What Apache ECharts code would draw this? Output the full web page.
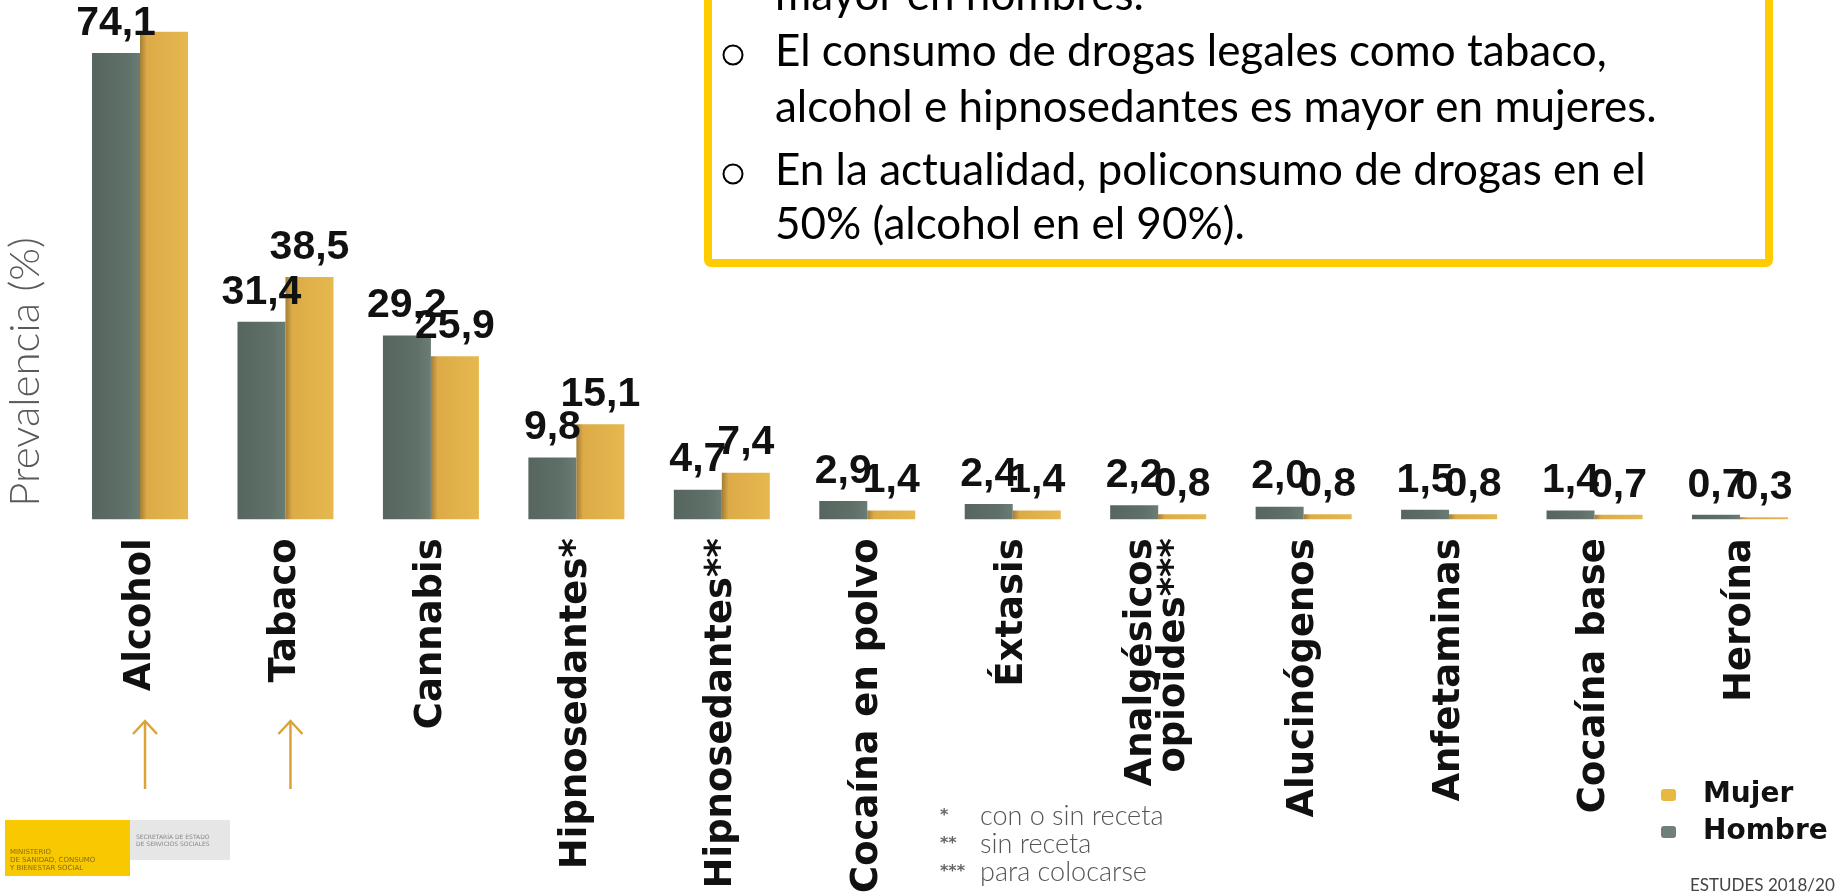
<!DOCTYPE html>
<html>
<head>
<meta charset="utf-8">
<script src="https://cdn.jsdelivr.net/npm/echarts@6/dist/echarts.min.js"></script>
<style>
html,body{margin:0;padding:0;background:#ffffff;}
#chart{width:1835px;height:896px;}
</style>
</head>
<body>
<div id="chart"></div>
<script>
// ---- data ----
const categories = ['Alcohol', 'Tabaco', 'Cannabis', 'Hipnosedantes*', 'Hipnosedantes**',
  'Cocaína en polvo', 'Éxtasis', 'Analgésicos\nopioides***', 'Alucinógenos', 'Anfetaminas',
  'Cocaína base', 'Heroína'];
const hombre = [74.1, 31.4, 29.2, 9.8, 4.7, 2.9, 2.4, 2.2, 2.0, 1.5, 1.4, 0.7];
const mujer  = [77.5, 38.5, 25.9, 15.1, 7.4, 1.4, 1.4, 0.8, 0.8, 0.8, 0.7, 0.3];
const hiddenMujerLabels = ['Alcohol'];
const arrowCategories = ['Alcohol', 'Tabaco'];
const legendOrder = ['Mujer', 'Hombre'];
const yAxisTitle = 'Prevalencia (%)';
const boxLines = ['mayor en hombres.', 'El consumo de drogas legales como tabaco,',
  'alcohol e hipnosedantes es mayor en mujeres.', 'En la actualidad, policonsumo de drogas en el',
  '50% (alcohol en el 90%).'];
const boxBulletLines = [1, 3];
const footMarks = ['*', '**', '***'];
const footTexts = ['con o sin receta', 'sin receta', 'para colocarse'];
const sourceText = 'ESTUDES 2018/2019';

// ---- chart ----
const chart = echarts.init(document.getElementById('chart'), null, {renderer: 'canvas'});
const fmt = p => p.value.toFixed(1).replace('.', ',');
const labelStyle = {
  show: true, position: 'top', distance: 9, formatter: fmt,
  fontFamily: "'Liberation Sans', 'Arial', sans-serif", fontWeight: 'bold', fontSize: 41, color: '#111'
};
const hombreColor = new echarts.graphic.LinearGradient(0, 0, 1, 0, [
  {offset: 0, color: '#56665f'}, {offset: 0.7, color: '#5f7068'}, {offset: 1, color: '#6a7c74'}]);
const mujerColor = new echarts.graphic.LinearGradient(0, 0, 1, 0, [
  {offset: 0, color: '#a27d36'}, {offset: 0.14, color: '#dcab47'}, {offset: 1, color: '#e6b84f'}]);

const mujerData = mujer.map((v, i) => hiddenMujerLabels.indexOf(categories[i]) >= 0
  ? {value: v, label: {show: false}} : v);

const boxFont = "'Lato', 'Open Sans', sans-serif";
const boxLineY = [-4, 52, 108, 171, 225];
const graphics = [];
// text box
graphics.push({type: 'rect', z: 10, shape: {x: 708, y: -40, width: 1061, height: 303, r: 3},
  style: {fill: '#ffffff', stroke: '#ffcc00', lineWidth: 8}});
boxLines.forEach((t, i) => {
  graphics.push({type: 'text', z: 11, x: 775, y: boxLineY[i],
    style: {text: t, font: "44px " + boxFont, fill: '#000', verticalAlign: 'middle', align: 'left'}});
});
boxBulletLines.forEach(i => {
  graphics.push({type: 'circle', z: 11, shape: {cx: 733, cy: boxLineY[i] + 3, r: 9.5},
    style: {fill: 'none', stroke: '#000', lineWidth: 2}});
});
// y axis title
graphics.push({type: 'text', x: 25, y: 372, rotation: Math.PI / 2,
  style: {text: yAxisTitle, font: "300 42px 'Lato', 'Open Sans', sans-serif", fill: '#5a5a5a',
    align: 'center', verticalAlign: 'middle'}});
// footnotes
footMarks.forEach((m, i) => {
  graphics.push({type: 'text', x: 940, y: 816 + i * 28,
    style: {text: m, font: "bold 16px 'DejaVu Sans', sans-serif", fill: '#666', verticalAlign: 'middle'}});
  graphics.push({type: 'text', x: 980, y: 816 + i * 28,
    style: {text: footTexts[i], font: "300 27px 'Lato', sans-serif", fill: '#555', verticalAlign: 'middle'}});
});
// source
graphics.push({type: 'text', x: 1690, y: 886,
  style: {text: sourceText, font: "17px 'Lato', sans-serif", fill: '#444', verticalAlign: 'middle'}});
// logo
graphics.push({type: 'rect', shape: {x: 5, y: 820, width: 125, height: 56}, style: {fill: '#f8c800'}});
graphics.push({type: 'rect', shape: {x: 130, y: 820, width: 100, height: 40}, style: {fill: '#e6e6e6'}});
graphics.push({type: 'text', x: 10, y: 848, style: {text: 'MINISTERIO\nDE SANIDAD, CONSUMO\nY BIENESTAR SOCIAL',
  font: "7px 'DejaVu Sans', sans-serif", fill: '#8a6d10', lineHeight: 8}});
graphics.push({type: 'text', x: 136, y: 834, style: {text: 'SECRETARÍA DE ESTADO\nDE SERVICIOS SOCIALES',
  font: "6px 'DejaVu Sans', sans-serif", fill: '#888', lineHeight: 7}});

const option = {
  backgroundColor: '#ffffff',
  animation: false,
  grid: {left: 67.3, right: 22.3, top: 16, bottom: 374, containLabel: false},
  legend: {
    orient: 'vertical', left: 1656, top: 776, itemWidth: 15, itemHeight: 12, itemGap: 9,
    data: [{name: 'Mujer', itemStyle: {color: '#e8b840'}}, {name: 'Hombre', itemStyle: {color: '#6f7f7a'}}]
      .filter(d => legendOrder.indexOf(d.name) >= 0),
    textStyle: {fontFamily: "'DejaVu Sans', sans-serif", fontWeight: 'bold', fontSize: 28, color: '#111',
      padding: [0, 0, 0, 22]}
  },
  xAxis: {
    type: 'category', data: categories,
    axisLine: {show: false}, axisTick: {show: false},
    axisLabel: {rotate: 90, margin: 19, interval: 0, fontFamily: "'DejaVu Sans', sans-serif",
      fontWeight: 'bold', fontSize: 37, color: '#111', lineHeight: 33}
  },
  yAxis: {type: 'value', min: 0, max: 80, show: false},
  series: [
    {name: 'Hombre', type: 'bar', data: hombre, barWidth: 48, barGap: '0%',
      itemStyle: {color: hombreColor}, label: labelStyle},
    {name: 'Mujer', type: 'bar', data: mujerData, barWidth: 48, barGap: '0%',
      itemStyle: {color: mujerColor}, label: labelStyle}
  ],
  graphic: graphics
};
chart.setOption(option);

// arrows under categories, positioned via the category axis
const arrowGraphics = arrowCategories.map(c => {
  const x = chart.convertToPixel({xAxisIndex: 0}, c) + 5;
  return {type: 'group', children: [
    {type: 'line', shape: {x1: x, y1: 789, x2: x, y2: 721}, style: {stroke: '#d9a43a', lineWidth: 2.5}},
    {type: 'polyline', shape: {points: [[x - 12, 734], [x, 721], [x + 12, 734]]},
      style: {stroke: '#d9a43a', lineWidth: 2.5, fill: 'none'}}
  ]};
});
chart.setOption({graphic: graphics.concat(arrowGraphics)});
</script>
</body>
</html>
